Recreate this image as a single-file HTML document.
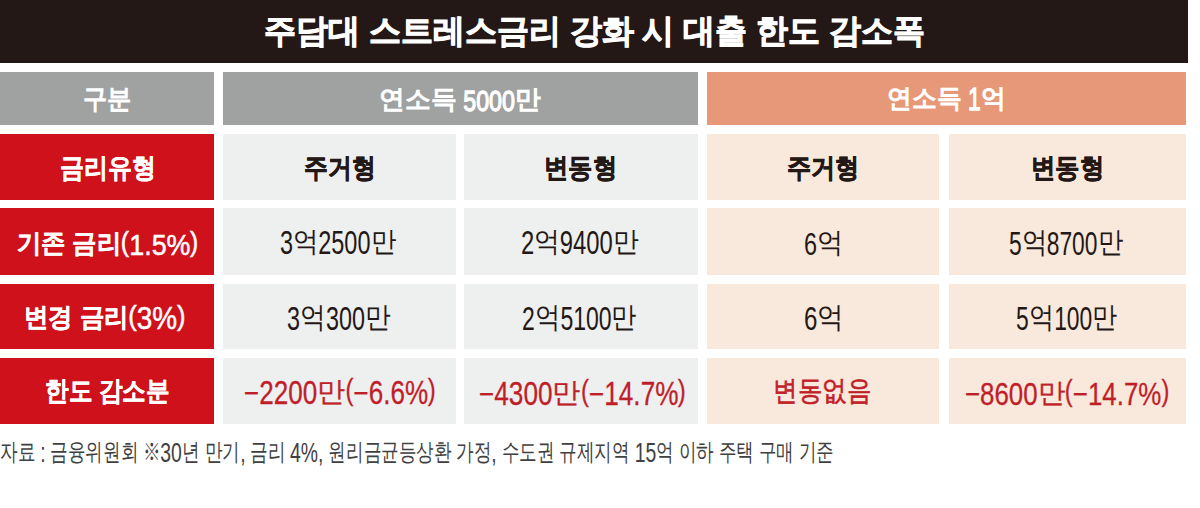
<!DOCTYPE html>
<html lang="ko"><head><meta charset="utf-8"><title>주담대 스트레스금리 강화 시 대출 한도 감소폭</title>
<style>
html,body{margin:0;padding:0;background:#ffffff;}
body{width:1200px;height:508px;position:relative;overflow:hidden;font-family:"Liberation Sans",sans-serif;}
.b{position:absolute;}
.t{position:absolute;line-height:1;white-space:nowrap;transform-origin:0 0;}
.d{display:inline-block;font-size:1.16em;line-height:1;vertical-align:-0.086em;}
.p{display:inline-block;font-size:1.06em;line-height:1;vertical-align:0.04em;}
.di{display:inline-block;transform-origin:0 0;}
.bd .d,.bd .p{font-weight:normal;-webkit-text-stroke:0.5px currentColor;}
</style></head><body>
<div class="b" style="left:0px;top:0px;width:1188px;height:63px;background:#231815"></div>
<div class="b" style="left:0px;top:72px;width:214px;height:52.5px;background:#a0a1a1"></div>
<div class="b" style="left:223px;top:72px;width:475px;height:52.5px;background:#a0a1a1"></div>
<div class="b" style="left:706.5px;top:72px;width:479.5px;height:52.5px;background:#e69878"></div>
<div class="b" style="left:0px;top:133.5px;width:214px;height:66.5px;background:#cf111b"></div>
<div class="b" style="left:223px;top:133.5px;width:233px;height:66.5px;background:#eeefef"></div>
<div class="b" style="left:464px;top:133.5px;width:234px;height:66.5px;background:#eeefef"></div>
<div class="b" style="left:706.5px;top:133.5px;width:232.5px;height:66.5px;background:#f9e8dc"></div>
<div class="b" style="left:948.5px;top:133.5px;width:237.5px;height:66.5px;background:#f9e8dc"></div>
<div class="b" style="left:0px;top:208px;width:214px;height:66.5px;background:#cf111b"></div>
<div class="b" style="left:223px;top:208px;width:233px;height:66.5px;background:#eeefef"></div>
<div class="b" style="left:464px;top:208px;width:234px;height:66.5px;background:#eeefef"></div>
<div class="b" style="left:706.5px;top:208px;width:232.5px;height:66.5px;background:#f9e8dc"></div>
<div class="b" style="left:948.5px;top:208px;width:237.5px;height:66.5px;background:#f9e8dc"></div>
<div class="b" style="left:0px;top:283.5px;width:214px;height:65.5px;background:#cf111b"></div>
<div class="b" style="left:223px;top:283.5px;width:233px;height:65.5px;background:#eeefef"></div>
<div class="b" style="left:464px;top:283.5px;width:234px;height:65.5px;background:#eeefef"></div>
<div class="b" style="left:706.5px;top:283.5px;width:232.5px;height:65.5px;background:#f9e8dc"></div>
<div class="b" style="left:948.5px;top:283.5px;width:237.5px;height:65.5px;background:#f9e8dc"></div>
<div class="b" style="left:0px;top:358px;width:214px;height:65.5px;background:#cf111b"></div>
<div class="b" style="left:223px;top:358px;width:233px;height:65.5px;background:#eeefef"></div>
<div class="b" style="left:464px;top:358px;width:234px;height:65.5px;background:#eeefef"></div>
<div class="b" style="left:706.5px;top:358px;width:232.5px;height:65.5px;background:#f9e8dc"></div>
<div class="b" style="left:948.5px;top:358px;width:237.5px;height:65.5px;background:#f9e8dc"></div>
<div class="t" id="title" style="left:263.75px;top:15.23px;font-size:32.51px;font-weight:bold;color:#ffffff;transform:scaleX(0.9698);-webkit-text-stroke:0.9px #ffffff">주담대 스트레스금리 강화 시 대출 한도 감소폭</div>
<div class="t" id="h1" style="left:83.04px;top:86.08px;font-size:26.92px;font-weight:normal;color:#ffffff;transform:scaleX(0.8970);-webkit-text-stroke:1.3px #ffffff">구분</div>
<div class="t" id="h2" style="left:378.96px;top:86.15px;font-size:25.93px;font-weight:normal;color:#ffffff;transform:scaleX(0.9907);-webkit-text-stroke:1.3px #ffffff">연소득 <span class="d" style="width:52.17px;"><span class="di" style="transform:scaleX(0.78)">5000</span></span>만</div>
<div class="t" id="h3" style="left:887.00px;top:84.84px;font-size:26.45px;font-weight:normal;color:#ffffff;transform:scaleX(0.9532);-webkit-text-stroke:1.3px #ffffff">연소득 <span class="d" style="width:13.31px;"><span class="di" style="transform:scaleX(0.78)">1</span></span>억</div>
<div class="t" id="r2c1" style="left:60.05px;top:154.82px;font-size:26.96px;font-weight:bold;color:#ffffff;transform:scaleX(0.8864);-webkit-text-stroke:0.4px #ffffff">금리유형</div>
<div class="t" id="r2c2" style="left:304.06px;top:154.82px;font-size:26.96px;font-weight:bold;color:#231815;transform:scaleX(0.8827);-webkit-text-stroke:0.6px #231815">주거형</div>
<div class="t" id="r2c3" style="left:544.28px;top:154.82px;font-size:26.96px;font-weight:bold;color:#231815;transform:scaleX(0.9002);-webkit-text-stroke:0.6px #231815">변동형</div>
<div class="t" id="r2c4" style="left:787.32px;top:154.76px;font-size:26.92px;font-weight:bold;color:#231815;transform:scaleX(0.8956);-webkit-text-stroke:0.6px #231815">주거형</div>
<div class="t" id="r2c5" style="left:1031.07px;top:154.76px;font-size:26.92px;font-weight:bold;color:#231815;transform:scaleX(0.9046);-webkit-text-stroke:0.6px #231815">변동형</div>
<div class="t bd" id="r3c1" style="left:16.84px;top:227.96px;font-size:25.56px;font-weight:bold;color:#ffffff;transform:scaleX(0.9354);-webkit-text-stroke:0.4px #ffffff">기존 금리<span class="p" style="width:8.76px;"><span class="di" style="transform:scaleX(0.97)">(</span></span><span class="d" style="width:65.51px;"><span class="di" style="transform:scaleX(0.97)">1.5%</span></span><span class="p" style="width:8.76px;"><span class="di" style="transform:scaleX(0.97)">)</span></span></div>
<div class="t" id="r3c2" style="left:280.08px;top:226.26px;font-size:28.45px;font-weight:normal;color:#231815;transform:scaleX(0.9109)"><span class="d" style="width:14.32px;"><span class="di" style="transform:scaleX(0.78)">3</span></span>억<span class="d" style="width:57.27px;"><span class="di" style="transform:scaleX(0.78)">2500</span></span>만</div>
<div class="t" id="r3c3" style="left:520.96px;top:226.26px;font-size:28.45px;font-weight:normal;color:#231815;transform:scaleX(0.9251)"><span class="d" style="width:14.32px;"><span class="di" style="transform:scaleX(0.78)">2</span></span>억<span class="d" style="width:57.27px;"><span class="di" style="transform:scaleX(0.78)">9400</span></span>만</div>
<div class="t" id="r3c4" style="left:804.16px;top:227.63px;font-size:27.67px;font-weight:normal;color:#231815;transform:scaleX(0.9360)"><span class="d" style="width:13.92px;"><span class="di" style="transform:scaleX(0.78)">6</span></span>억</div>
<div class="t" id="r3c5" style="left:1009.00px;top:227.03px;font-size:28.69px;font-weight:normal;color:#231815;transform:scaleX(0.8784)"><span class="d" style="width:14.44px;"><span class="di" style="transform:scaleX(0.78)">5</span></span>억<span class="d" style="width:57.73px;"><span class="di" style="transform:scaleX(0.78)">8700</span></span>만</div>
<div class="t bd" id="r4c1" style="left:24.29px;top:302.19px;font-size:26.44px;font-weight:bold;color:#ffffff;transform:scaleX(0.9387);-webkit-text-stroke:0.4px #ffffff">변경 금리<span class="p" style="width:9.06px;"><span class="di" style="transform:scaleX(0.97)">(</span></span><span class="d" style="width:42.98px;"><span class="di" style="transform:scaleX(0.97)">3%</span></span><span class="p" style="width:9.06px;"><span class="di" style="transform:scaleX(0.97)">)</span></span></div>
<div class="t" id="r4c2" style="left:286.68px;top:301.60px;font-size:29.08px;font-weight:normal;color:#231815;transform:scaleX(0.8875)"><span class="d" style="width:14.64px;"><span class="di" style="transform:scaleX(0.78)">3</span></span>억<span class="d" style="width:43.89px;"><span class="di" style="transform:scaleX(0.78)">300</span></span>만</div>
<div class="t" id="r4c3" style="left:522.24px;top:301.60px;font-size:29.08px;font-weight:normal;color:#231815;transform:scaleX(0.8746)"><span class="d" style="width:14.64px;"><span class="di" style="transform:scaleX(0.78)">2</span></span>억<span class="d" style="width:58.51px;"><span class="di" style="transform:scaleX(0.78)">5100</span></span>만</div>
<div class="t" id="r4c4" style="left:804.13px;top:301.60px;font-size:29.08px;font-weight:normal;color:#231815;transform:scaleX(0.9168)"><span class="d" style="width:14.64px;"><span class="di" style="transform:scaleX(0.78)">6</span></span>억</div>
<div class="t" id="r4c5" style="left:1016.29px;top:301.60px;font-size:29.08px;font-weight:normal;color:#231815;transform:scaleX(0.8677)"><span class="d" style="width:14.64px;"><span class="di" style="transform:scaleX(0.78)">5</span></span>억<span class="d" style="width:43.89px;"><span class="di" style="transform:scaleX(0.78)">100</span></span>만</div>
<div class="t" id="r5c1" style="left:44.61px;top:378.11px;font-size:26.65px;font-weight:bold;color:#ffffff;transform:scaleX(0.8735);-webkit-text-stroke:0.4px #ffffff">한도 감소분</div>
<div class="t" id="r5c2" style="left:243.73px;top:375.00px;font-size:28.00px;font-weight:normal;color:#c01f2a;transform:scaleX(1.0038);-webkit-text-stroke:0.3px #c01f2a"><span class="d" style="width:72.96px;"><span class="di" style="transform:scaleX(0.8)">−2200</span></span>만<span class="p" style="width:7.91px;"><span class="di" style="transform:scaleX(0.8)">(</span></span><span class="d" style="width:74.38px;"><span class="di" style="transform:scaleX(0.8)">−6.6%</span></span><span class="p" style="width:7.91px;"><span class="di" style="transform:scaleX(0.8)">)</span></span></div>
<div class="t" id="r5c3" style="left:479.04px;top:376.37px;font-size:27.95px;font-weight:normal;color:#c01f2a;transform:scaleX(1.0091);-webkit-text-stroke:0.3px #c01f2a"><span class="d" style="width:72.82px;"><span class="di" style="transform:scaleX(0.8)">−4300</span></span>만<span class="p" style="width:7.90px;"><span class="di" style="transform:scaleX(0.8)">(</span></span><span class="d" style="width:88.65px;"><span class="di" style="transform:scaleX(0.8)">−14.7%</span></span><span class="p" style="width:7.90px;"><span class="di" style="transform:scaleX(0.8)">)</span></span></div>
<div class="t" id="r5c4" style="left:773.41px;top:377.41px;font-size:27.80px;font-weight:normal;color:#c01f2a;transform:scaleX(0.8755);-webkit-text-stroke:0.6px #c01f2a">변동없음</div>
<div class="t" id="r5c5" style="left:964.83px;top:377.36px;font-size:27.40px;font-weight:normal;color:#c01f2a;transform:scaleX(1.0176);-webkit-text-stroke:0.3px #c01f2a"><span class="d" style="width:71.38px;"><span class="di" style="transform:scaleX(0.8)">−8600</span></span>만<span class="p" style="width:7.74px;"><span class="di" style="transform:scaleX(0.8)">(</span></span><span class="d" style="width:86.90px;"><span class="di" style="transform:scaleX(0.8)">−14.7%</span></span><span class="p" style="width:7.74px;"><span class="di" style="transform:scaleX(0.8)">)</span></span></div>
<div class="t" id="foot" style="left:-0.40px;top:439.38px;font-size:24.05px;font-weight:normal;color:#404040;transform:scaleX(0.7321)">자료 <span class="d" style="width:7.36px;"><span class="di" style="transform:scaleX(0.95)">:</span></span> 금융위원회 ※<span class="d" style="width:29.46px;"><span class="di" style="transform:scaleX(0.95)">30</span></span>년 만기<span class="d" style="width:7.36px;"><span class="di" style="transform:scaleX(0.95)">,</span></span> 금리 <span class="d" style="width:45.64px;"><span class="di" style="transform:scaleX(0.95)">4%,</span></span> 원리금균등상환 가정<span class="d" style="width:7.36px;"><span class="di" style="transform:scaleX(0.95)">,</span></span> 수도권 규제지역 <span class="d" style="width:29.46px;"><span class="di" style="transform:scaleX(0.95)">15</span></span>억 이하 주택 구매 기준</div>
</body></html>
